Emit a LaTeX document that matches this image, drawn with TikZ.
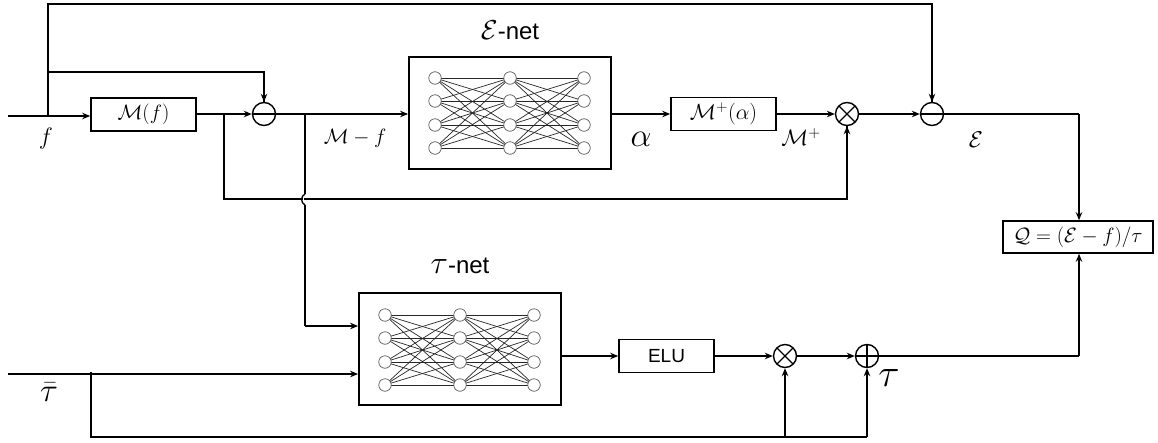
\documentclass[tikz,border=0pt]{standalone}
\usepackage{graphicx}
\usepackage{fontspec}
\setmainfont{Liberation Sans}
\usetikzlibrary{arrows.meta,calc}
\newcommand{\fsz}[1]{\fontsize{#1}{#1}\selectfont}
\newcommand{\bigmath}[2]{\scalebox{#1}{$#2$}}
\tikzset{
  x=1pt,y=-1pt,
  wire/.style={line width=1.6pt,line join=miter},
  arr/.style={wire,-{Stealth[length=8pt,width=6.5pt]}},
  blockbox/.style={draw,line width=1.6pt,minimum width=#1,inner sep=0pt,minimum height=33pt,font=\fsz{21}},
  netbox/.style={draw,line width=1.8pt,minimum width=202pt,minimum height=112pt,inner sep=0pt},
  junct/.style={draw,circle,line width=1.4pt,minimum size=23pt,inner sep=0pt},
  minusj/.style={junct,path picture={\draw[line width=1.3pt] (path picture bounding box.west)--(path picture bounding box.east);}},
  timesj/.style={junct,path picture={\draw[line width=1.3pt] (path picture bounding box.center)+(-9,-9)--+(9,9) (path picture bounding box.center)+(-9,9)--+(9,-9);}},
  plusj/.style={junct,path picture={\draw[line width=1.3pt] (path picture bounding box.west)--(path picture bounding box.east) (path picture bounding box.north)--(path picture bounding box.south);}},
  neuron/.style={draw=black!65,fill=white,circle,line width=0.7pt,minimum size=12.5pt,inner sep=0pt},
  syn/.style={draw=black!85,line width=0.7pt},
  lab/.style={font=\fsz{21},inner sep=0pt},
  title/.style={font=\fsz{24},inner sep=0pt},
}
\begin{document}
\begin{tikzpicture}
\useasboundingbox (0,0) rectangle (1158,442);
% blocks
\node[blockbox=105pt] (mf) at (143.5,114.5) {$\mathcal{M}(f)$};
\node[blockbox=105pt] (mp) at (723.5,114) {\bigmath{1.05}{\mathcal{M}^{+}(\alpha)}};
\node[blockbox=95pt,font=\fsz{19}] (elu) at (666.5,356) {ELU};
\node[blockbox=150pt,minimum height=32pt,font=\fsz{20}] (q) at (1078,237) {$\mathcal{Q}=(\mathcal{E}-f)/\tau$};
\node[netbox] (enet) at (510,113) {};
\node[netbox] (tnet) at (460,349) {};
\node[minusj] (s1) at (264,114) {};
\node[timesj] (m1) at (847,114) {};
\node[minusj] (s2) at (932,114) {};
\node[timesj] (m2) at (785,356) {};
\node[plusj] (p1) at (867,356) {};
% networks
\foreach \net/\xa/\xb/\xc/\yo in {e/435/510/584/0,t/385/460/534/237}{
  \foreach \i/\y in {1/78,2/101,3/125,4/148}{
    \coordinate (\net a\i) at (\xa,\y+\yo);
    \coordinate (\net b\i) at (\xb,\y+\yo);
    \coordinate (\net c\i) at (\xc,\y+\yo);
  }
  \foreach \i in {1,2,3,4}{\foreach \j in {1,2,3,4}{
    \draw[syn] (\net a\i)--(\net b\j);
    \draw[syn] (\net b\i)--(\net c\j);
  }}
  \foreach \i in {1,2,3,4}{
    \node[neuron] (\net na\i) at (\net a\i) {};
    \node[neuron] (\net nb\i) at (\net b\i) {};
    \node[neuron] (\net nc\i) at (\net c\i) {};
  }
}
% free ends and corners
\coordinate (inf) at (8,116);
\coordinate (jf) at (48,116);
\coordinate (jtop) at (48,4);
\coordinate (jmid) at (48,72);
\coordinate (jm) at (224,114);
\coordinate (jlow) at (224,199);
\coordinate (jd) at (305,114);
\coordinate (bumpa) at (305,194);
\coordinate (bumpb) at (305,205);
\coordinate (jdl) at (305,326);
\coordinate (intau) at (8,374);
\coordinate (jt) at (91,372);
\coordinate (jtl) at (91,437);
\coordinate (qc) at (1079,114);
% top row
\draw[arr] (inf) -- (inf -| mf.west);
\draw[wire] (jf) -- (jtop) -| (s2.north);
\draw[arr] (jtop -| s2) -- (s2.north);
\draw[wire] (jmid) -| (s1.north);
\draw[arr] (jmid -| s1) -- (s1.north);
\draw[arr] (jm -| mf.east) -- (s1.west);
\draw[arr] (s1.east) -- (s1 -| enet.west);
\draw[arr] (mp.west -| enet.east) -- (mp.west);
\draw[arr] (mp.east) -- (m1.west);
\draw[arr] (m1.east) -- (s2.west);
\draw[wire] (s2.east) -- (qc);
\draw[arr] (qc) -- (qc |- q.north);
% feedback with line jump
\draw[wire] (jm) -- (jlow) -| (m1.south);
\draw[arr] (m1.south |- jlow) -- (m1.south);
\fill[white] (303.4,198) rectangle (304.2,200);
\draw[wire] (jd) -- (bumpa);
\draw[line width=1.3pt] (bumpa) .. controls (300.5,196) and (300.5,203) .. (bumpb);
\draw[wire] (bumpb) -- (jdl);
\draw[arr] (jdl) -- (jdl -| tnet.west);
% bottom row
\draw[arr] (intau) -- (intau -| tnet.west);
\draw[wire] (jt) -- (jtl) -- (jtl -| p1);
\draw[arr] (jtl -| p1) -- (p1.south);
\draw[arr] (jtl -| m2) -- (m2.south);
\draw[arr] (elu.east) -- (m2.west);
\draw[arr] (tnet.east |- elu.west) -- (elu.west);
\draw[arr] (m2.east) -- (p1.west);
\draw[wire] (p1.east) -| (qc |- p1);
\draw[arr] (qc |- p1) -- (q.south -| qc);
% labels
\node[lab] (lf) at (46,139) {\bigmath{1.15}{f}};
\node[lab] (lmf) at (355,138) {$\mathcal{M}-f$};
\node[lab] (la) at (641,139) {\bigmath{1.6}{\alpha}};
\node[lab] (lmp) at (801,137) {\bigmath{1.08}{\mathcal{M}^{+}}};
\node[lab] (le) at (976,140) {\bigmath{1.1}{\mathcal{E}}};
\node[lab] (lt) at (889,378) {\bigmath{1.9}{\tau}};
\node[lab] (ltb) at (49,392) {\bigmath{1.6}{\bar{\tau}}};
\node[title] (ten) at (510,30) {\bigmath{1.1}{\mathcal{E}}-net};
\node[title] (ttn) at (460,266) {\bigmath{1.3}{\tau}-net};
\end{tikzpicture}
\end{document}
